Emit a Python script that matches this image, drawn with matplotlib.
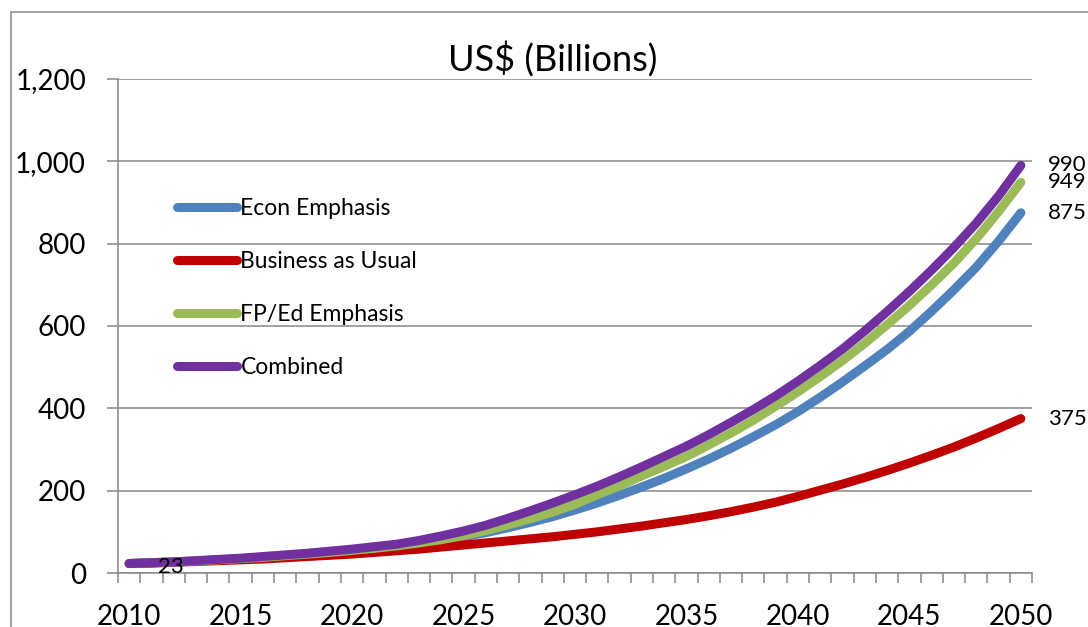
import matplotlib
matplotlib.use("Agg")
import matplotlib.pyplot as plt
from matplotlib.patches import Rectangle
from matplotlib.ticker import FuncFormatter, MultipleLocator
import numpy as np

plt.rcParams['font.family'] = ['Lato', 'DejaVu Sans']

years = list(range(2010, 2051))

econ = [23, 25, 27, 29, 32, 35, 38, 41, 45, 49,
        54, 59, 65, 71, 79, 88, 98, 110, 123, 137,
        153, 170, 189, 209, 230, 253, 277, 303, 331, 360,
        392, 427, 464, 503, 543, 587, 636, 688, 743, 806,
        875]
bau = [23, 24, 26, 28, 30, 32, 34, 37, 40, 43,
       46, 50, 54, 58, 63, 68, 73, 78, 83, 88,
       94, 100, 107, 114, 122, 130, 139, 149, 160, 172,
       186, 201, 216, 232, 249, 267, 286, 306, 328, 351,
       375]
fped = [23, 25, 27, 29, 32, 35, 38, 42, 46, 50,
        55, 60, 66, 73, 81, 91, 103, 117, 132, 148,
        167, 190, 212, 236, 259, 283, 311, 340, 371, 405,
        440, 477, 516, 558, 603, 650, 700, 753, 812, 878,
        949]
combined = [23, 25, 27, 30, 33, 36, 40, 44, 48, 53,
            58, 64, 70, 79, 90, 102, 116, 133, 151, 170,
            190, 211, 234, 258, 283, 308, 336, 366, 397, 430,
            466, 504, 544, 588, 635, 684, 736, 791, 850, 916,
            990]

series = [
    ("Econ Emphasis", econ, "#4F81BD"),
    ("Business as Usual", bau, "#C00000"),
    ("FP/Ed Emphasis", fped, "#9BBB59"),
    ("Combined", combined, "#7030A0"),
]

grid_col = "#888888"

fig = plt.figure(figsize=(10.88, 6.27), dpi=100)
ax = fig.add_axes([118 / 1088, 1 - 573 / 627, (1032 - 118) / 1088, (573 - 79) / 627])

# chart area border
fig.patches.append(Rectangle((11 / 1088, -0.1), 1.2, 1 - 12 / 627 + 0.1,
                             transform=fig.transFigure, fill=False,
                             edgecolor="#9a9a9a", linewidth=1.3))

for name, vals, col in series:
    ax.plot(years, vals, color=col, linewidth=6.5, solid_capstyle="round",
            label=name, zorder=3)

# end labels
for name, vals, col in series:
    ax.annotate(str(vals[-1]), (years[-1], vals[-1]), xytext=(27, 0),
                textcoords="offset pixels", va="center", ha="left",
                fontsize=16, annotation_clip=False)
ax.annotate(str(combined[0]), (years[0], combined[0]), xytext=(29, -3),
            textcoords="offset pixels", va="center", ha="left", fontsize=16,
            zorder=4)

ax.set_xlim(2009.5, 2050.5)
ax.set_ylim(0, 1200)
ax.yaxis.set_major_locator(MultipleLocator(200))
ax.yaxis.set_major_formatter(FuncFormatter(lambda v, p: f"{int(v):,}"))
ax.set_xticks(years[::5])
ax.set_xticks(np.arange(2009.5, 2051, 1), minor=True)
ax.tick_params(axis="x", which="major", length=0, pad=22, labelsize=20)
ax.tick_params(axis="x", which="minor", length=7.5, width=1.1, color=grid_col)
ax.tick_params(axis="y", length=8, width=1.1, color=grid_col, pad=15, labelsize=20)

ax.grid(axis="y", color=grid_col, linewidth=1.1, zorder=1)
ax.set_axisbelow(True)
for s in ["top", "right"]:
    ax.spines[s].set_visible(False)
for s in ["left", "bottom"]:
    ax.spines[s].set_color(grid_col)
    ax.spines[s].set_linewidth(1.1)

fig.text(553 / 1088, 1 - 59 / 627, "US$ (Billions)", fontsize=26,
         ha="center", va="center")

ax.legend(loc="upper left", bbox_to_anchor=(0.055, 0.778), frameon=False,
          fontsize=16.5, handlelength=2.6, handletextpad=0.15, labelspacing=1.4,
          borderaxespad=0)

fig.savefig("out.png", dpi=100)
